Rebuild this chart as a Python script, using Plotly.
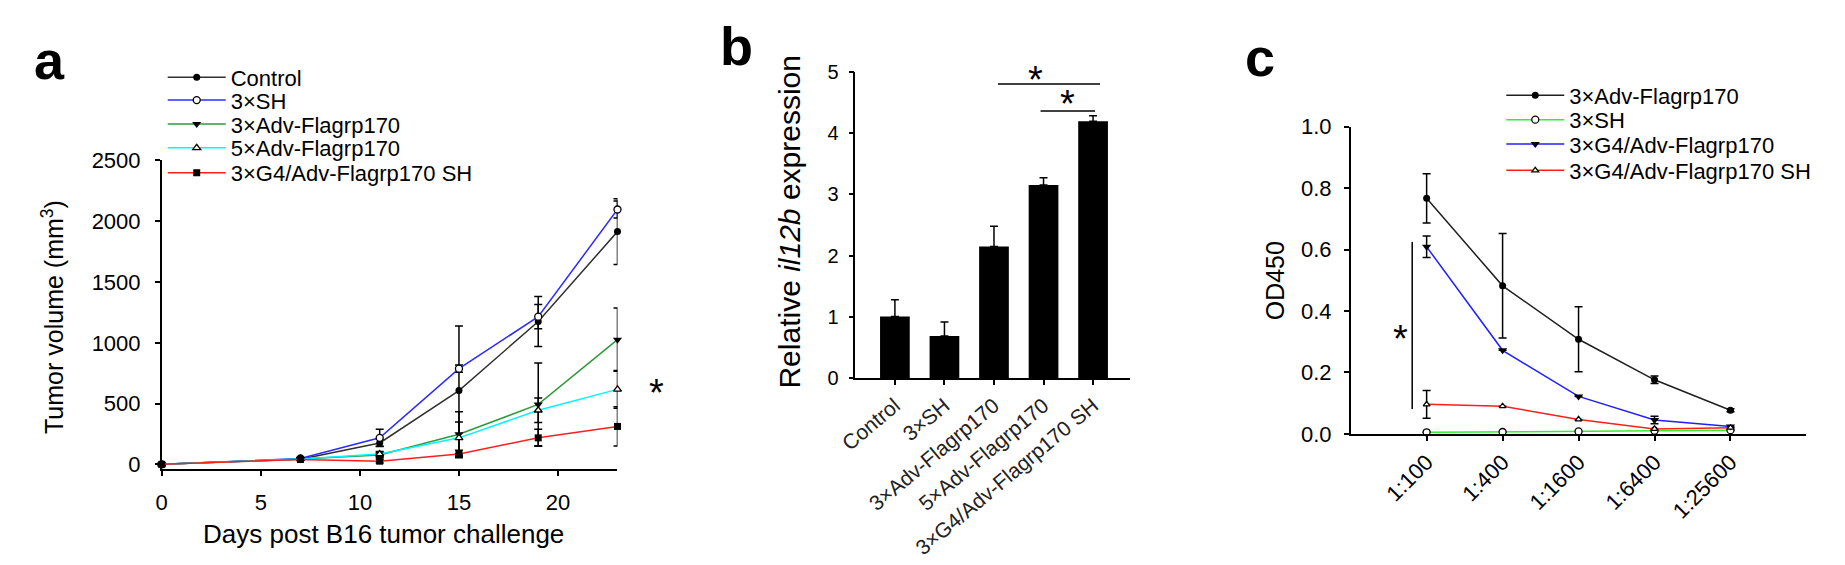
import plotly.graph_objects as go

FONT = "Arial, 'Liberation Sans', Helvetica, sans-serif"
W, H = 1845, 565

# ---- panel a: tumour growth
days = [0, 7, 11, 15, 19, 23]
groups_a = ["Control", "3×SH", "3×Adv-Flagrp170", "5×Adv-Flagrp170", "3×G4/Adv-Flagrp170 SH"]
vol_control = [0, 42, 176, 607, 1175, 1915]
err_control = [0, 6, 30, 532, 205, 270]
vol_sh = [0, 48, 218, 787, 1215, 2097]
err_sh = [0, 6, 70, 30, 100, 70]
vol_adv3 = [0, 45, 77, 247, 493, 1026]
err_adv3 = [0, 6, 20, 185, 340, 261]
vol_adv5 = [0, 45, 85, 218, 445, 617]
err_adv5 = [0, 6, 20, 130, 100, 155]
vol_g4sh = [0, 40, 26, 85, 218, 312]
err_g4sh = [0, 6, 15, 30, 70, 162]

# ---- panel b: il12b expression
groups_b = ["Control", "3×SH", "3×Adv-Flagrp170", "5×Adv-Flagrp170", "3×G4/Adv-Flagrp170 SH"]
il12b = [1.01, 0.69, 2.15, 3.15, 4.19]
il12b_err = [0.27, 0.23, 0.33, 0.12, 0.09]

# ---- panel c: OD450 by dilution
dilutions = ["1:100", "1:400", "1:1600", "1:6400", "1:25600"]
groups_c = ["3×Adv-Flagrp170", "3×SH", "3×G4/Adv-Flagrp170", "3×G4/Adv-Flagrp170 SH"]
od_adv = [0.767, 0.482, 0.308, 0.176, 0.077]
od_adv_err = [0.08, 0.17, 0.106, 0.012, 0.005]
od_sh = [0.005, 0.006, 0.008, 0.010, 0.012]
od_g4 = [0.609, 0.272, 0.122, 0.045, 0.024]
od_g4_err = [0.035, 0, 0, 0.012, 0]
od_g4sh = [0.096, 0.090, 0.047, 0.016, 0.020]
od_g4sh_err = [0.045, 0, 0, 0, 0]


def px(x):
    return x / W


def py(y):
    return 1 - y / H


fig = go.Figure()

marker_line = dict(color="black", width=1.3)
a_styles = [
    ("#303030", dict(symbol="circle", color="black", size=7)),
    ("#2b2bff", dict(symbol="circle", color="white", size=7, line=marker_line)),
    ("#2e9a3a", dict(symbol="triangle-down", color="black", size=8)),
    ("#00f5ff", dict(symbol="triangle-up", color="white", size=7, line=marker_line)),
    ("#ff1e1e", dict(symbol="square", color="black", size=7)),
]
a_vals = [vol_control, vol_sh, vol_adv3, vol_adv5, vol_g4sh]
a_errs = [err_control, err_sh, err_adv3, err_adv5, err_g4sh]
a_rows = [60, 84, 109, 134, 160]
legends = {}
for i, (name, vals, errs, (col, mk)) in enumerate(zip(groups_a, a_vals, a_errs, a_styles)):
    key = "legend" if i == 0 else f"legend{i + 1}"
    legends[key] = (139, a_rows[i])
    fig.add_trace(go.Scatter(
        x=days, y=vals, name=name, mode="lines+markers",
        line=dict(color=col, width=1.5), marker=mk, cliponaxis=False,
        error_y=dict(type="data", array=errs, color="black", thickness=1.5, width=4),
        xaxis="x", yaxis="y", legend=key))

fig.add_trace(go.Bar(
    x=list(range(len(groups_b))), y=il12b, marker=dict(color="black", line=dict(width=0)),
    error_y=dict(type="data", array=il12b_err, arrayminus=[0] * len(il12b),
                 symmetric=False, color="black", thickness=1.5, width=4),
    width=0.6, showlegend=False, xaxis="x2", yaxis="y2"))

c_styles = [
    ("#202020", dict(symbol="circle", color="black", size=7)),
    ("#33ee33", dict(symbol="circle", color="white", size=7, line=marker_line)),
    ("#2020ff", dict(symbol="triangle-down", color="black", size=8)),
    ("#ff1e1e", dict(symbol="triangle-up", color="white", size=6, line=marker_line)),
]
c_vals = [od_adv, od_sh, od_g4, od_g4sh]
c_errs = [od_adv_err, [0] * 5, od_g4_err, od_g4sh_err]
c_rows = [79, 104.5, 130, 157.5]
xc = list(range(1, len(dilutions) + 1))
for i, (name, vals, errs, (col, mk)) in enumerate(zip(groups_c, c_vals, c_errs, c_styles)):
    key = f"legend{i + 6}"
    legends[key] = (1490, c_rows[i])
    fig.add_trace(go.Scatter(
        x=xc, y=vals, name=name, mode="lines+markers",
        line=dict(color=col, width=1.5), marker=mk, cliponaxis=False,
        error_y=dict(type="data", array=errs, color="black", thickness=1.5, width=4),
        xaxis="x3", yaxis="y3", legend=key))

axis_common = dict(showline=True, linecolor="black", linewidth=1.5, ticks="outside",
                   ticklen=5, tickwidth=1.5, tickcolor="black", showgrid=False,
                   zeroline=False, tickfont=dict(family=FONT, size=22, color="black"))

fig.update_layout(
    width=W, height=H, margin=dict(l=0, r=0, t=0, b=0),
    paper_bgcolor="white", plot_bgcolor="white",
    font=dict(family=FONT, color="black"),
    xaxis=dict(axis_common, domain=[px(138), px(598)], range=[0, 23], anchor="y",
               tickvals=[0, 5, 10, 15, 20], ticklabelstandoff=8),
    yaxis=dict(axis_common, domain=[py(470), py(147)], range=[-40, 2500], anchor="x",
               tickvals=[0, 500, 1000, 1500, 2000, 2500], ticklabelstandoff=10),
    xaxis2=dict(axis_common, domain=[px(838), px(1115)], range=[-0.8, 4.74], anchor="y2",
                tickvals=list(range(len(groups_b))), ticktext=groups_b, tickangle=-40,
                tickfont=dict(family=FONT, size=21, color="#222")),
    yaxis2=dict(axis_common, domain=[py(375), py(54)], range=[0, 5], anchor="x2",
                tickvals=[0, 1, 2, 3, 4, 5], ticklabelstandoff=6,
                tickfont=dict(family=FONT, size=20, color="black")),
    xaxis3=dict(axis_common, domain=[px(1338), px(1798)], range=[0, 6], anchor="y3",
                tickvals=xc, ticktext=dilutions, tickangle=-45,
                tickfont=dict(family=FONT, size=22, color="black")),
    yaxis3=dict(axis_common, domain=[py(433), py(111.7)], range=[0, 1], anchor="x3",
                tickvals=[0, 0.2, 0.4, 0.6, 0.8, 1.0], tickformat=".1f", ticklabelstandoff=8),
    bargap=0.4,
)

# one legend box per row so the row spacing matches the reference
for key, (lx, ly) in legends.items():
    fig.update_layout({key: dict(x=px(lx), y=py(ly), xanchor="left", yanchor="middle",
                                 bgcolor="rgba(0,0,0,0)", itemwidth=58,
                                 font=dict(family=FONT, size=22, color="black"))})

# significance marks
fig.add_shape(type="line", xref="x2", yref="y2", x0=2.08, x1=4.14, y0=4.8, y1=4.8,
              line=dict(color="black", width=1.5))
fig.add_shape(type="line", xref="x2", yref="y2", x0=2.94, x1=4.04, y0=4.36, y1=4.36,
              line=dict(color="black", width=1.5))
fig.add_shape(type="line", xref="x3", yref="y3", x0=0.81, x1=0.81, y0=0.081, y1=0.625,
              line=dict(color="black", width=1.5))
# small end tick on panel c's x axis
fig.add_shape(type="line", xref="x3", yref="y3", x0=6, x1=6, y0=0, y1=-0.016,
              line=dict(color="black", width=1.5))

star = dict(text="*", showarrow=False, xanchor="center", yanchor="middle",
            font=dict(family=FONT, size=38, color="black"), yshift=-10)
fig.add_annotation(star, x=px(637), y=py(380), xref="paper", yref="paper")
fig.add_annotation(star, x=px(1020), y=py(52), xref="paper", yref="paper")
fig.add_annotation(star, x=3.48, y=4.63, xref="x2", yref="y2")
fig.add_annotation(star, x=0.65, y=0.34, xref="x3", yref="y3")

title = dict(xref="paper", yref="paper", showarrow=False, xanchor="center", yanchor="middle")
fig.add_annotation(title, x=px(362), y=py(538), text="Days post B16 tumor challenge",
                   font=dict(family=FONT, size=26))
fig.add_annotation(title, x=px(28), y=py(311), textangle=-90,
                   text="Tumor volume (mm<sup>3</sup>)", font=dict(family=FONT, size=25))
fig.add_annotation(title, x=px(772), y=py(211), textangle=-90,
                   text="Relative <i>il12b</i> expression", font=dict(family=FONT, size=30))
fig.add_annotation(title, x=px(1262), y=py(273), textangle=-90, text="OD450",
                   font=dict(family=FONT, size=25))

# panel letters
for letter, cx, cy in [("a", 25, 42), ("b", 718, 27), ("c", 1246, 39)]:
    fig.add_annotation(title, x=px(cx), y=py(cy), text=f"<b>{letter}</b>",
                       font=dict(family=FONT, size=54, color="black"))

fig.write_html("out.html")
